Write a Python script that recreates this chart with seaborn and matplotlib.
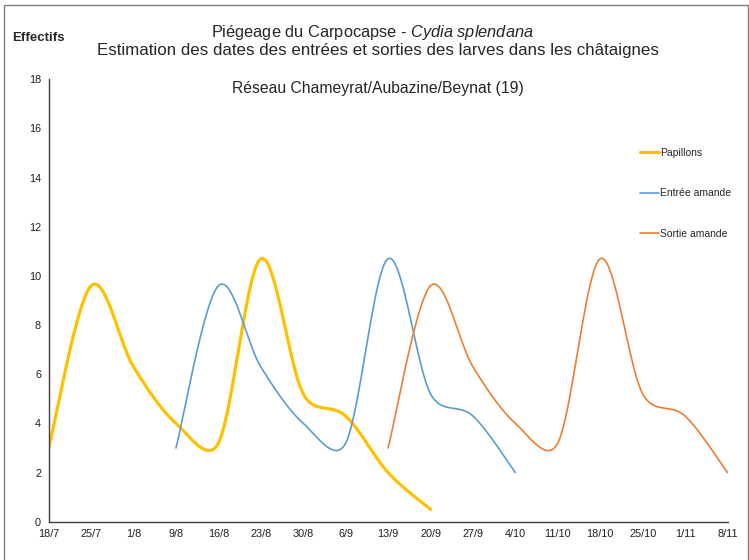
import numpy as np
import pandas as pd
import matplotlib
matplotlib.use("Agg")
import matplotlib.pyplot as plt
import seaborn as sns
from matplotlib.patches import Rectangle

dates = ["18/7", "25/7", "1/8", "9/8", "16/8", "23/8", "30/8", "6/9", "13/9",
         "20/9", "27/9", "4/10", "11/10", "18/10", "25/10", "1/11", "8/11"]
papillons = [3, 9.6, 6.3, 4, 3.2, 10.7, 5.2, 4.3, 2, 0.5]
papillons_start = 0
entree = [3, 9.6, 6.3, 4, 3.2, 10.7, 5.2, 4.3, 2]
entree_start = 3
sortie = [3, 9.6, 6.3, 4, 3.2, 10.7, 5.2, 4.3, 2]
sortie_start = 8

series_names = ["Papillons", "Entrée amande", "Sortie amande"]
colors = ["#FFC000", "#5B9BD5", "#ED7D31"]
widths = [2.3, 1.2, 1.2]


def excel_smooth(ax, xs, ys, n=40):
    """Excel-like smoothed line: Bezier through points, computed in screen space."""
    pts = ax.transData.transform(np.column_stack([xs, ys]).astype(float))
    P = np.vstack([pts[0], pts, pts[-1]])
    out = []
    for i in range(1, len(P) - 2):
        p0, p1, p2, p3 = P[i - 1], P[i], P[i + 1], P[i + 2]
        d12 = np.linalg.norm(p2 - p1)
        t1 = (p2 - p0) / 6.0
        t2 = (p3 - p1) / 6.0
        n1, n2 = np.linalg.norm(t1), np.linalg.norm(t2)
        if n1 > d12 / 2 and n1 > 0:
            t1 = t1 * (d12 / 2) / n1
        if n2 > d12 / 2 and n2 > 0:
            t2 = t2 * (d12 / 2) / n2
        c1 = p1 + t1
        c2 = p2 - t2
        t = np.linspace(0, 1, n, endpoint=(i == len(P) - 3))[:, None]
        seg = ((1 - t) ** 3) * p1 + 3 * ((1 - t) ** 2) * t * c1 \
            + 3 * (1 - t) * t ** 2 * c2 + t ** 3 * p2
        out.append(seg)
    out = np.vstack(out)
    back = ax.transData.inverted().transform(out)
    return back[:, 0], back[:, 1]


sns.set_style("white")
plt.rcParams["font.family"] = ["Liberation Sans", "DejaVu Sans"]
plt.rcParams["mathtext.fontset"] = "custom"
plt.rcParams["mathtext.it"] = "Liberation Sans:italic"
plt.rcParams["mathtext.rm"] = "Liberation Sans"

fig = plt.figure(figsize=(7.49, 5.6), dpi=100)
ax = fig.add_axes([48.7 / 749, 1 - 521.7 / 560, (727.5 - 48.7) / 749,
                   (521.7 - 79.3) / 560])
ax.set_xlim(0, len(dates) - 1)
ax.set_ylim(0, 18)

frames = []
for name, vals, start in zip(series_names, [papillons, entree, sortie],
                             [papillons_start, entree_start, sortie_start]):
    x = np.arange(start, start + len(vals))
    sx, sy = excel_smooth(ax, x, vals)
    frames.append(pd.DataFrame({"x": sx, "y": sy, "serie": name}))
df = pd.concat(frames, ignore_index=True)

for name, c, lw in zip(series_names, colors, widths):
    sub = df[df["serie"] == name]
    sns.lineplot(data=sub, x="x", y="y", color=c, linewidth=lw, ax=ax,
                 sort=False, estimator=None, label=name)

ax.set_xlim(0, len(dates) - 1)
ax.set_ylim(0, 18)
ax.set_xticks(range(len(dates)))
ax.set_xticklabels(dates)
ax.set_yticks(range(0, 19, 2))
ax.set_xlabel("")
ax.set_ylabel("")
for s in ["top", "right"]:
    ax.spines[s].set_visible(False)
for s in ["left", "bottom"]:
    ax.spines[s].set_color("#404040")
    ax.spines[s].set_linewidth(1.0)
ax.tick_params(axis="both", direction="inout", length=7, width=0.9,
               color="#404040", labelsize=7.8, labelcolor="#202020", pad=2)

leg = ax.legend(loc="upper left", bbox_to_anchor=(587 / 679, 1 - 64 / 442),
                frameon=False, fontsize=7.5, handlelength=1.9, handletextpad=0.05,
                labelspacing=2.95, borderaxespad=0)

fig.text(12 / 749, 1 - 38 / 560, "Effectifs", fontsize=9.5, fontweight="bold",
         va="center", ha="left")
fig.text(372 / 749, 1 - 33 / 560,
         "Piégeage du Carpocapse - $\\mathit{Cydia\\ splendana}$",
         fontsize=11.8, ha="center", va="center")
fig.text(378 / 749, 1 - 50 / 560,
         "Estimation des dates des entrées et sorties des larves dans les châtaignes",
         fontsize=12.2, ha="center", va="center")
fig.text(378 / 749, 1 - 88 / 560, "Réseau Chameyrat/Aubazine/Beynat (19)",
         fontsize=11.3, ha="center", va="center")

fig.patches.append(Rectangle((4 / 749, -0.01), 744 / 749, 1 - 5 / 560 + 0.01,
                             transform=fig.transFigure, fill=False,
                             edgecolor="#808080", linewidth=1.0))

fig.savefig("out.png", dpi=100)
